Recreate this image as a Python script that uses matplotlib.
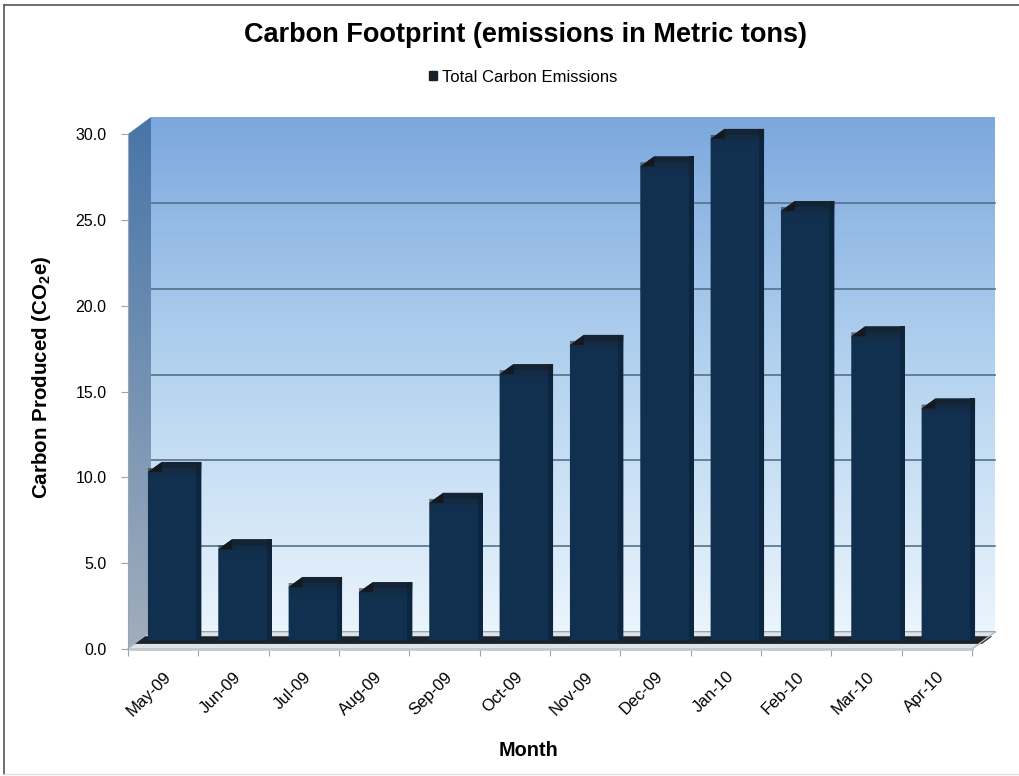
import numpy as np
import matplotlib.pyplot as plt
from matplotlib.patches import Polygon, Rectangle, Patch
from matplotlib.lines import Line2D

plt.rcParams['font.family'] = ['Liberation Sans', 'DejaVu Sans']
plt.rcParams['mathtext.fontset'] = 'custom'
plt.rcParams['mathtext.bf'] = 'Liberation Sans:bold'
plt.rcParams['mathtext.rm'] = 'Liberation Sans'

# Data
months = ["May-09", "Jun-09", "Jul-09", "Aug-09", "Sep-09", "Oct-09",
          "Nov-09", "Dec-09", "Jan-10", "Feb-10", "Mar-10", "Apr-10"]
emissions = [10.4, 5.9, 3.7, 3.4, 8.6, 16.1, 17.8, 28.2, 29.8, 25.6, 18.3, 14.1]
y_ticks = [0, 5, 10, 15, 20, 25, 30]
y_tick_labels = ["0.0", "5.0", "10.0", "15.0", "20.0", "25.0", "30.0"]

navy = "#11304f"
cap_col = "#1a2028"

W, H = 1019, 776
fig = plt.figure(figsize=(W / 100, H / 100), dpi=100)
ax = fig.add_axes([128 / W, 1 - 649 / H, 844 / W, 515 / H])
ax.patch.set_visible(False)
n = len(months)
ymax = y_ticks[-1]

# depth of the fake 3-D box, in data units
DX = 23 / (844 / n)
DY = 17 / (515 / ymax)
x_left, x_right = -0.5, n - 0.5

# back wall with vertical gradient
grad = np.linspace(0, 1, 256)[:, None]
top = np.array([0.49, 0.66, 0.87])
mid = np.array([0.71, 0.83, 0.94])
bot = np.array([0.92, 0.96, 0.99])
rgb = np.where(grad[..., None] < 0.5,
               top + (mid - top) * (grad[..., None] / 0.5),
               mid + (bot - mid) * ((grad[..., None] - 0.5) / 0.5))
ax.imshow(rgb, extent=[x_left + DX, x_right + DX, DY, ymax + DY],
          aspect='auto', clip_on=False, zorder=0, interpolation='bilinear')

# gridlines on the back wall
for y in y_ticks[:-1]:
    ax.plot([x_left + DX, x_right + DX], [y + DY, y + DY], color="#56718a",
            lw=1.2, zorder=1, clip_on=False)

# side wall
side_pts = [(x_left, 0), (x_left, ymax), (x_left + DX, ymax + DY), (x_left + DX, DY)]
side_poly = Polygon(side_pts, closed=True, fc='none', ec='none', zorder=1)
ax.add_patch(side_poly)
side_poly.set_clip_on(False)
s_top = np.array([0.28, 0.46, 0.66])
s_bot = np.array([0.63, 0.68, 0.74])
side_rgb = s_top + (s_bot - s_top) * grad[..., None]
im = ax.imshow(side_rgb, extent=[x_left, x_left + DX, 0, ymax + DY],
               aspect='auto', zorder=1, interpolation='bilinear')
im.set_clip_box(fig.bbox)
im.set_clip_path(side_poly)

# floor
floor = Polygon([(x_left, 0), (x_right, 0), (x_right + DX, DY), (x_left + DX, DY)],
                closed=True, fc="#dde5ec", ec="#b8c0c8", lw=0.8, zorder=2, clip_on=False)
ax.add_patch(floor)
f0, f1 = 0.3, 0.75
x_end = n - 1 + 0.38 + DX / 2
shadow = Polygon([(x_left + f0 * DX, f0 * DY), (x_end + f0 * DX, f0 * DY),
                  (x_end + f1 * DX, f1 * DY), (x_left + f1 * DX, f1 * DY)],
                 closed=True, fc="#1c2228", ec='none', zorder=2, clip_on=False)
ax.add_patch(shadow)

# bars
w = 0.76
cx = 14 / (844 / n)
cy = 10 / (515 / ymax)
for i, v in enumerate(emissions):
    x0 = i - w / 2 + DX / 2
    x1 = i + w / 2 + DX / 2
    yb = DY / 2
    yt = v + DY / 2
    body = Polygon([(x0, yb), (x1, yb), (x1, yt), (x0 + cx, yt), (x0, yt - cy)],
                   closed=True, fc=navy, ec='none', zorder=3, clip_on=False)
    ax.add_patch(body)
    ax.add_patch(Rectangle((x1 - 0.07, yb), 0.07, v, fc="#0d263f", ec='none',
                           zorder=3, clip_on=False))
    # darker bevel towards the top of each column
    for k, a in enumerate([0.55, 0.35, 0.18]):
        hh = 0.35 * (k + 1)
        cap = Polygon([(x0, yt - cy), (x0 + cx, yt), (x1, yt), (x1, yt - hh),
                       (x0, yt - hh)], closed=True, fc=cap_col, ec='none',
                      zorder=3, alpha=a / (k + 1), clip_on=False)
        ax.add_patch(cap)
    ax.add_patch(Polygon([(x0, yt - cy), (x0 + cx, yt), (x0 + cx, yt - cy)],
                         closed=True, fc="#15191e", ec='none', zorder=3, clip_on=False))

# front edges
ax.plot([x_left, x_right], [0, 0], color="#c4c9ce", lw=2, zorder=4, clip_on=False)
ax.plot([x_right, x_right + DX], [0, DY], color="#b8bec4", lw=1, zorder=4, clip_on=False)
ax.plot([x_left, x_left], [0, ymax], color="#9aa4ae", lw=0.8, zorder=4, clip_on=False)

for s in ax.spines.values():
    s.set_visible(False)

ax.set_xlim(x_left, x_right)
ax.set_ylim(0, ymax)

ax.set_yticks(y_ticks, y_tick_labels, fontsize=11.5)
ax.tick_params(axis='y', length=5, width=0.8, color="#9aa4ae", pad=10.5)

ax.set_xticks(range(n), months, fontsize=12)
ax.set_xticks(np.arange(n + 1) - 0.5, minor=True)
ax.tick_params(axis='x', which='major', length=0, pad=14.4)
ax.tick_params(axis='x', which='minor', length=5, width=0.8, color="#9aa4ae")
plt.setp(ax.get_xticklabels(), rotation=45, ha='right', rotation_mode='anchor')

# titles and labels
fig.text(525 / W, 1 - 35 / H, "Carbon Footprint (emissions in Metric tons)",
         ha='center', va='center', fontsize=19.5, fontweight='bold')
fig.text(42 / W, 1 - 377 / H, r"Carbon Produced (CO$_\mathbf{2}$e)", rotation=90,
         ha='center', va='center', fontsize=14.8, fontweight='bold')
fig.text(528 / W, 1 - 751 / H, "Month", ha='center', va='center',
         fontsize=14.3, fontweight='bold')

fig.legend(handles=[Patch(color=cap_col, label="Total Carbon Emissions")],
           loc='center', bbox_to_anchor=(523 / W, 1 - 77 / H), frameon=False,
           handlelength=0.5, handleheight=0.5, handletextpad=0.3, fontsize=12)

# outer chart border
fig.add_artist(Line2D([4 / W, 4 / W], [1 - 5 / H, 2 / H], transform=fig.transFigure,
                      color="#555555", lw=1.2))
fig.add_artist(Line2D([4 / W, 1], [1 - 5 / H, 1 - 5 / H], transform=fig.transFigure,
                      color="#555555", lw=1.2))
fig.add_artist(Line2D([4 / W, 1], [2 / H, 2 / H], transform=fig.transFigure,
                      color="#dddddd", lw=1))

fig.savefig("out.png", dpi=100)
